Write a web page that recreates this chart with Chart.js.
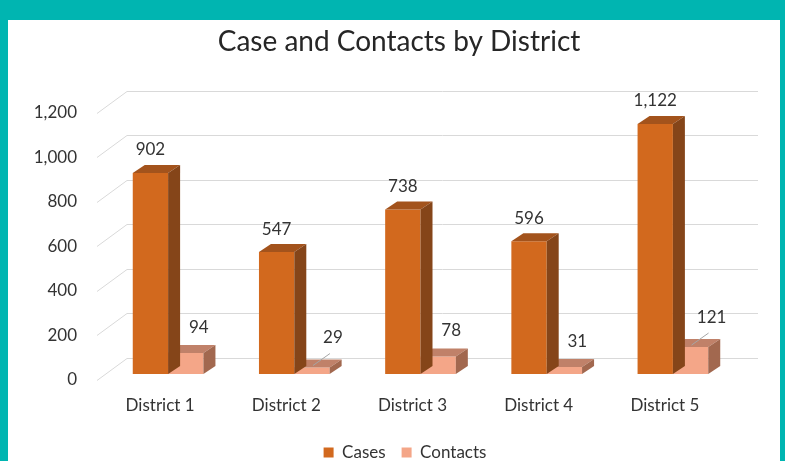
<!DOCTYPE html>
<html>
<head>
<meta charset="utf-8">
<script src="https://cdn.jsdelivr.net/npm/chart.js@4.4.0/dist/chart.umd.min.js"></script>
<style>
  body { margin: 0; background: #00b5b1; overflow: hidden; width: 785px; height: 461px; }
  #box { position: absolute; left: 8px; top: 20px; width: 772px; height: 451px; background: #fff; }
</style>
</head>
<body>
<div id="box"><canvas id="myChart" width="772" height="451"></canvas></div>
<script>
var districts = ['District 1', 'District 2', 'District 3', 'District 4', 'District 5'];
var cases = [902, 547, 738, 596, 1122];
var contacts = [94, 29, 78, 31, 121];
var yTicks = [0, 200, 400, 600, 800, 1000, 1200];

// colours of the faces of the fake 3d bars
var caseFaces = { front: '#d2691e', top: '#a3531c', side: '#854519' };
var contactFaces = { front: '#f4a688', top: '#c08169', side: '#a2684f' };
var depth = { x: 12, y: -8 };
var wall = { front: { x: -8, y: 6 }, back: { x: 22, y: -16 } };
var leaderIdx = [1, 4];
var textColor = '#333333';

function fmt(v) { return Number(v).toLocaleString('en-US'); }

var threeD = {
    id: 'threeD',
    afterLayout: function (chart) {
        // let the y labels run into the left padding without being clipped
        chart.scales.y.left = 0;
        // title sits a bit left of the legend in the original
        chart.titleBlock.left -= 12;
    },
    beforeDatasetsDraw: function (chart) {
        var ctx = chart.ctx, area = chart.chartArea, y = chart.scales.y;
        ctx.save();
        ctx.strokeStyle = '#d9d9d9';
        ctx.lineWidth = 1;
        yTicks.forEach(function (v) {
            var py = Math.round(y.getPixelForValue(v)) + 0.5;
            ctx.beginPath();
            ctx.moveTo(area.left + wall.front.x, py + wall.front.y);
            ctx.lineTo(area.left + wall.back.x, py + wall.back.y);
            ctx.lineTo(area.right + wall.back.x, py + wall.back.y);
            ctx.stroke();
        });
        ctx.restore();
    },
    afterDatasetDraw: function (chart, args) {
        var faces = args.index === 0 ? caseFaces : contactFaces;
        var ctx = chart.ctx;
        ctx.save();
        args.meta.data.forEach(function (bar) {
            var p = bar.getProps(['x', 'y', 'base', 'width'], true);
            var x0 = p.x - p.width / 2, x1 = p.x + p.width / 2;
            ctx.fillStyle = faces.top;
            ctx.beginPath();
            ctx.moveTo(x0, p.y);
            ctx.lineTo(x0 + depth.x, p.y + depth.y);
            ctx.lineTo(x1 + depth.x, p.y + depth.y);
            ctx.lineTo(x1, p.y);
            ctx.closePath();
            ctx.fill();
            ctx.fillStyle = faces.side;
            ctx.beginPath();
            ctx.moveTo(x1, p.y);
            ctx.lineTo(x1 + depth.x, p.y + depth.y);
            ctx.lineTo(x1 + depth.x, p.base + depth.y);
            ctx.lineTo(x1, p.base);
            ctx.closePath();
            ctx.fill();
        });
        ctx.restore();
    },
    afterDatasetsDraw: function (chart) {
        var ctx = chart.ctx;
        ctx.save();
        ctx.font = '17px Lato';
        ctx.fillStyle = textColor;
        ctx.textAlign = 'center';
        ctx.textBaseline = 'middle';
        chart.getDatasetMeta(0).data.forEach(function (bar, i) {
            ctx.fillText(fmt(cases[i]), bar.x, bar.y - 23);
        });
        chart.getDatasetMeta(1).data.forEach(function (bar, i) {
            if (leaderIdx.indexOf(i) >= 0) {
                ctx.strokeStyle = '#a6a6a6';
                ctx.lineWidth = 1;
                ctx.beginPath();
                ctx.moveTo(bar.x + 1, bar.y - 2);
                ctx.lineTo(bar.x + 18, bar.y - 14);
                ctx.stroke();
                ctx.fillText(fmt(contacts[i]), bar.x + 21, bar.y - 30);
            } else {
                ctx.fillText(fmt(contacts[i]), bar.x + 13, bar.y - 26);
            }
        });
        ctx.restore();
    }
};

var ctx = document.getElementById('myChart').getContext('2d');
var myChart = new Chart(ctx, {
    type: 'bar',
    data: {
        labels: districts,
        datasets: [{
            label: 'Cases',
            data: cases,
            backgroundColor: caseFaces.front,
            borderWidth: 0,
            categoryPercentage: 0.56,
            barPercentage: 1.0
        }, {
            label: 'Contacts',
            data: contacts,
            backgroundColor: contactFaces.front,
            borderWidth: 0,
            categoryPercentage: 0.56,
            barPercentage: 1.0
        }]
    },
    options: {
        responsive: false,
        animation: false,
        layout: { padding: { left: 66, right: 44, top: 0, bottom: 0 } },
        plugins: {
            title: {
                display: true,
                text: 'Case and Contacts by District',
                color: '#262626',
                font: { family: 'Lato', size: 28, weight: 'normal' },
                padding: { top: 5, bottom: 48 }
            },
            legend: {
                position: 'bottom',
                labels: {
                    color: textColor,
                    font: { family: 'Lato', size: 17 },
                    boxWidth: 10,
                    boxHeight: 10,
                    padding: 16
                }
            },
            tooltip: { enabled: false }
        },
        scales: {
            x: {
                grid: { display: false, drawTicks: false },
                border: { display: false },
                ticks: { color: textColor, font: { family: 'Lato', size: 17 }, padding: 21, labelOffset: -8 },
                afterFit: function (s) { s.height = 54; }
            },
            y: {
                min: 0,
                max: 1200,
                grid: { display: false, drawTicks: false },
                border: { display: false },
                ticks: {
                    stepSize: 200,
                    color: textColor,
                    font: { family: 'Lato', size: 17 },
                    padding: 28,
                    labelOffset: 6,
                    callback: function (v) { return fmt(v); }
                },
                afterFit: function (s) { s.width = 31; }
            }
        }
    },
    plugins: [threeD]
});
</script>
</body>
</html>
